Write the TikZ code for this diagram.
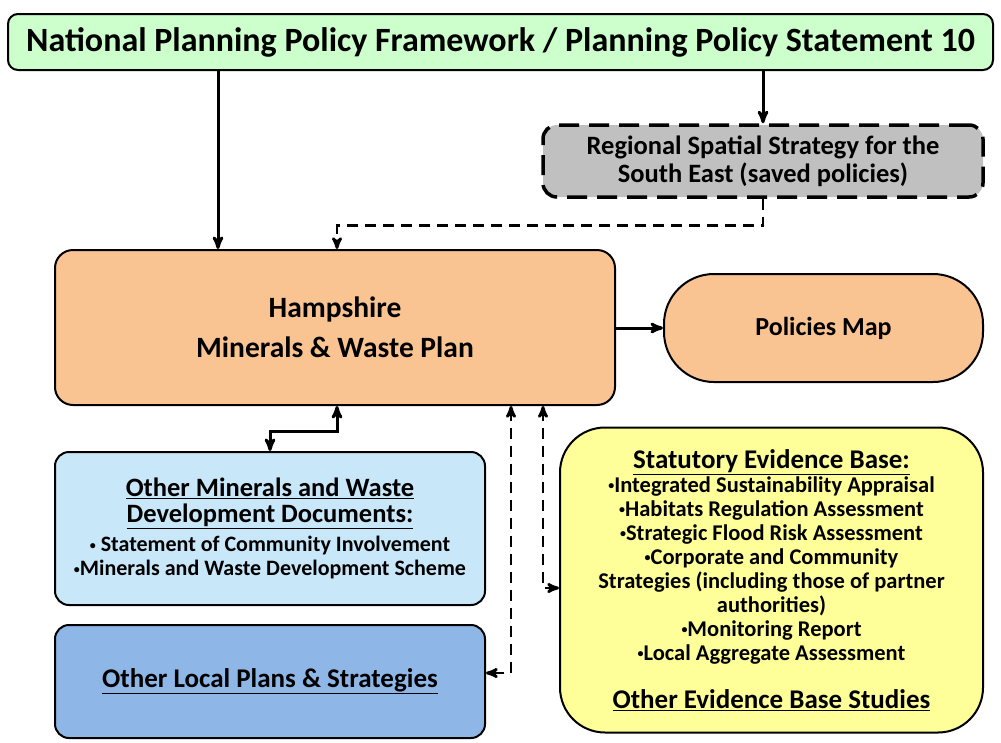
\documentclass[tikz,border=0pt]{standalone}
\usepackage{fontspec}
\setmainfont{Carlito}
\usetikzlibrary{arrows}
\usetikzlibrary{calc}

\definecolor{npfgreen}{RGB}{204,255,204}
\definecolor{rssgrey}{RGB}{192,192,192}
\definecolor{plancream}{RGB}{250,196,146}
\definecolor{docblue}{RGB}{200,232,250}
\definecolor{localblue}{RGB}{142,183,232}
\definecolor{evidyellow}{RGB}{255,255,153}

\newcommand{\blt}{\raisebox{0.22ex}{\fontsize{12}{12}\selectfont•}}

\tikzset{
 box/.style={draw=black, line width=2pt, rounded corners=14pt, align=center, font=\bfseries, inner sep=0pt},
 arr/.style={black, line width=3pt, ->, >=stealth'},
 darr/.style={black, line width=2.8pt, dash pattern=on 11pt off 7pt, ->, >=stealth'},
}

\begin{document}
\begin{tikzpicture} [x=1pt, y=-1pt]
\useasboundingbox (0,0) rectangle (1001,742);
% boxes
\node[box, fill=npfgreen, minimum width=985, minimum height=56, rounded corners=10pt,
 font=\bfseries\fontsize{34}{38}\selectfont] (npf) at (500.5,42)
 {National Planning Policy Framework / Planning Policy Statement 10};
\node[box, fill=rssgrey, minimum width=440, minimum height=72, line width=3.5pt,
 dash pattern=on 20pt off 10pt, font=\bfseries\fontsize{26.5}{28}\selectfont] (rss) at (763,161)
 {Regional Spatial Strategy for the\\South East (saved policies)};
\node[box, fill=plancream, minimum width=560, minimum height=155, rounded corners=18pt,
 font=\bfseries\fontsize{29.5}{40}\selectfont] (hmp) at (335,327.5)
 {Hampshire\\Minerals \& Waste Plan};
\node[box, fill=plancream, minimum width=319, minimum height=108, rounded corners=50pt,
 font=\bfseries\fontsize{26}{28}\selectfont] (map) at (823.5,328) {Policies Map};
\node[box, fill=docblue, minimum width=430, minimum height=153,
 font=\bfseries\fontsize{22}{24}\selectfont] (mwd) at (270,528.5)
 {\fontsize{26.5}{24}\selectfont\underline{Other Minerals and Waste}\\[2pt]
  \fontsize{26.5}{24}\selectfont\underline{Development Documents:}\\[5pt]
  \blt{} Statement of Community Involvement\\
  \blt Minerals and Waste Development Scheme};
\node[box, fill=localblue, minimum width=430, minimum height=113,
 font=\bfseries\fontsize{27}{30}\selectfont] (lpl) at (270,681.5)
 {\underline{Other Local Plans \& Strategies}};
\node[box, fill=evidyellow, minimum width=423, minimum height=305, rounded corners=45pt,
 font=\bfseries\fontsize{22.5}{24}\selectfont] (evb) at (771.5,580)
 {\fontsize{27}{25}\selectfont\underline{Statutory Evidence Base:}\\
  \blt Integrated Sustainability Appraisal\\
  \blt Habitats Regulation Assessment\\
  \blt Strategic Flood Risk Assessment\\
  \blt Corporate and Community\\
  Strategies (including those of partner\\
  authorities)\\
  \blt Monitoring Report\\
  \blt Local Aggregate Assessment\\[24pt]
  \fontsize{27}{24}\selectfont\underline{Other Evidence Base Studies}};
% connectors
\draw[arr] (npf.south -| 218,0) -- (hmp.north -| 218,0);
\draw[arr] (npf.south -| 763,0) -- (rss.north);
\draw[darr] (rss.south) -- ++(0,27) -| (hmp.north -| 337,0);
\draw[arr] (hmp.east |- map.west) -- (map.west);
\draw[arr, <->] (hmp.south -| 337,0) -- ++(0,25) -| (mwd.north);
\draw[darr, <->] (hmp.south -| 511,0) |- (lpl.east |- 0,673);
\draw[darr, <->] (hmp.south -| 543,0) |- (evb.west |- 0,588);
\end{tikzpicture}
\end{document}
